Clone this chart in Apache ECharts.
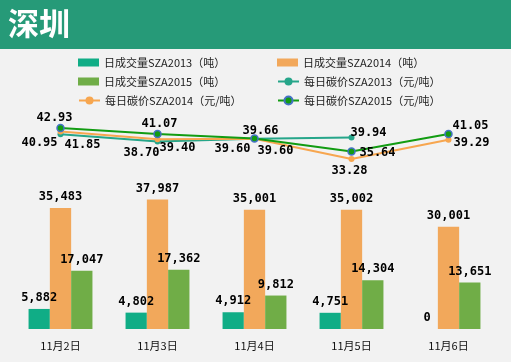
<!DOCTYPE html>
<html><head><meta charset="utf-8">
<script src="https://cdn.jsdelivr.net/npm/echarts@6/dist/echarts.min.js"></script>
<style>html,body{margin:0;padding:0;background:#F2F2F2}#c{width:511px;height:362px}</style>
</head><body><div id="c"></div>
<script>
var categories = ['11月2日','11月3日','11月4日','11月5日','11月6日'];
var vol2013 = [5882, 4802, 4912, 4751, 0];
var vol2014 = [35483, 37987, 35001, 35002, 30001];
var vol2015 = [17047, 17362, 9812, 14304, 13651];
var price2013 = [40.95, 38.70, 39.60, 39.94, null];
var price2014 = [41.85, 39.40, 39.60, 33.28, 39.29];
var price2015 = [42.93, 41.07, 39.66, 35.64, 41.05];
var names = ['日成交量SZA2013（吨）','日成交量SZA2014（吨）','日成交量SZA2015（吨）',
             '每日碳价SZA2013（元/吨）','每日碳价SZA2014（元/吨）','每日碳价SZA2015（元/吨）'];

// label offsets (layout only)
var off2013 = [[-21,9],[-16,11],[-22,10],[17,-5],[0,0]];
var off2014 = [[22,13],[20,9],[21,12],[-2,12],[23,3]];
var off2015 = [[-6,-10],[2,-10],[6,-8],[26,1.5],[22,-8]];

var labelFont = {fontFamily:'DejaVu Sans Mono', fontWeight:'bold', fontSize:12, color:'#000'};

function lineData(vals, offs){
  return vals.map(function(v,i){
    return {value:v, label:Object.assign({show:v!==null, position:'inside', offset:offs[i],
      formatter:function(p){return Number(p.value).toFixed(2);}}, labelFont)};
  });
}
function fmt(p){ return Number(p.value).toLocaleString('en-US'); }

var chart = echarts.init(document.getElementById('c'), null, {renderer:'canvas'});
var legText = {fontSize:11, color:'#222', fontFamily:'Noto Sans CJK SC'};
function leg(name, left, top, isBar){
  return {left:left, top:top, itemWidth:21, itemHeight:isBar?8:10, itemGap:0, padding:0,
    textStyle:legText, selectedMode:false,
    data:[isBar?{name:name, icon:'rect'}:{name:name}]};
}
chart.setOption({
  backgroundColor:'#F2F2F2',
  animation:false,
  graphic:[
    {type:'rect', left:0, top:0, shape:{width:511, height:49}, style:{fill:'#269A78'}},
    {type:'text', left:8, top:8, style:{text:'深圳', fill:'#fff', font:'bold 31px "Noto Sans CJK SC"'}}
  ],
  legend:[
    leg(names[0], 78, 57, true),
    leg(names[1], 277, 57, true),
    leg(names[2], 78, 76, true),
    leg(names[3], 277, 76, false),
    leg(names[4], 78, 95, false),
    leg(names[5], 277, 95, false)
  ],
  grid:[
    {left:12, width:485, top:121.3, bottom:192.4},
    {left:12, width:485, top:192.6, bottom:33}
  ],
  xAxis:[
    {type:'category', gridIndex:0, data:categories, show:false},
    {type:'category', gridIndex:1, data:categories, axisLine:{show:false}, axisTick:{show:false},
     axisLabel:{fontSize:11, color:'#111', margin:11, fontFamily:'Noto Sans CJK SC'}}
  ],
  yAxis:[
    {type:'value', gridIndex:0, min:30, max:45, show:false, splitLine:{show:false}},
    {type:'value', gridIndex:1, min:0, max:40000, show:false, splitLine:{show:false}}
  ],
  series:[
    {name:names[0], type:'bar', xAxisIndex:1, yAxisIndex:1, data:vol2013, barWidth:21.3, barGap:'0%',
     itemStyle:{color:'#10AD86'}, label:Object.assign({show:true, position:'top', distance:5, formatter:fmt}, labelFont)},
    {name:names[1], type:'bar', xAxisIndex:1, yAxisIndex:1, data:vol2014, barWidth:21.3, barGap:'0%',
     itemStyle:{color:'#F2A85B'}, label:Object.assign({show:true, position:'top', distance:5, formatter:fmt}, labelFont)},
    {name:names[2], type:'bar', xAxisIndex:1, yAxisIndex:1, data:vol2015, barWidth:21.3, barGap:'0%',
     itemStyle:{color:'#70AD47'}, label:Object.assign({show:true, position:'top', distance:5, formatter:fmt}, labelFont)},
    {name:names[3], type:'line', xAxisIndex:0, yAxisIndex:0, data:lineData(price2013, off2013),
     symbol:'circle', symbolSize:6, lineStyle:{width:2, color:'#26A68A'}, itemStyle:{color:'#26A68A'}},
    {name:names[4], type:'line', xAxisIndex:0, yAxisIndex:0, data:lineData(price2014, off2014),
     symbol:'circle', symbolSize:6, lineStyle:{width:2, color:'#F7A64F'}, itemStyle:{color:'#F7A64F'}},
    {name:names[5], type:'line', xAxisIndex:0, yAxisIndex:0, data:lineData(price2015, off2015),
     symbol:'circle', symbolSize:7, lineStyle:{width:2, color:'#129C12'}, itemStyle:{color:'#129C12', borderColor:'#4472C4', borderWidth:1.5}}
  ]
});
</script></body></html>
